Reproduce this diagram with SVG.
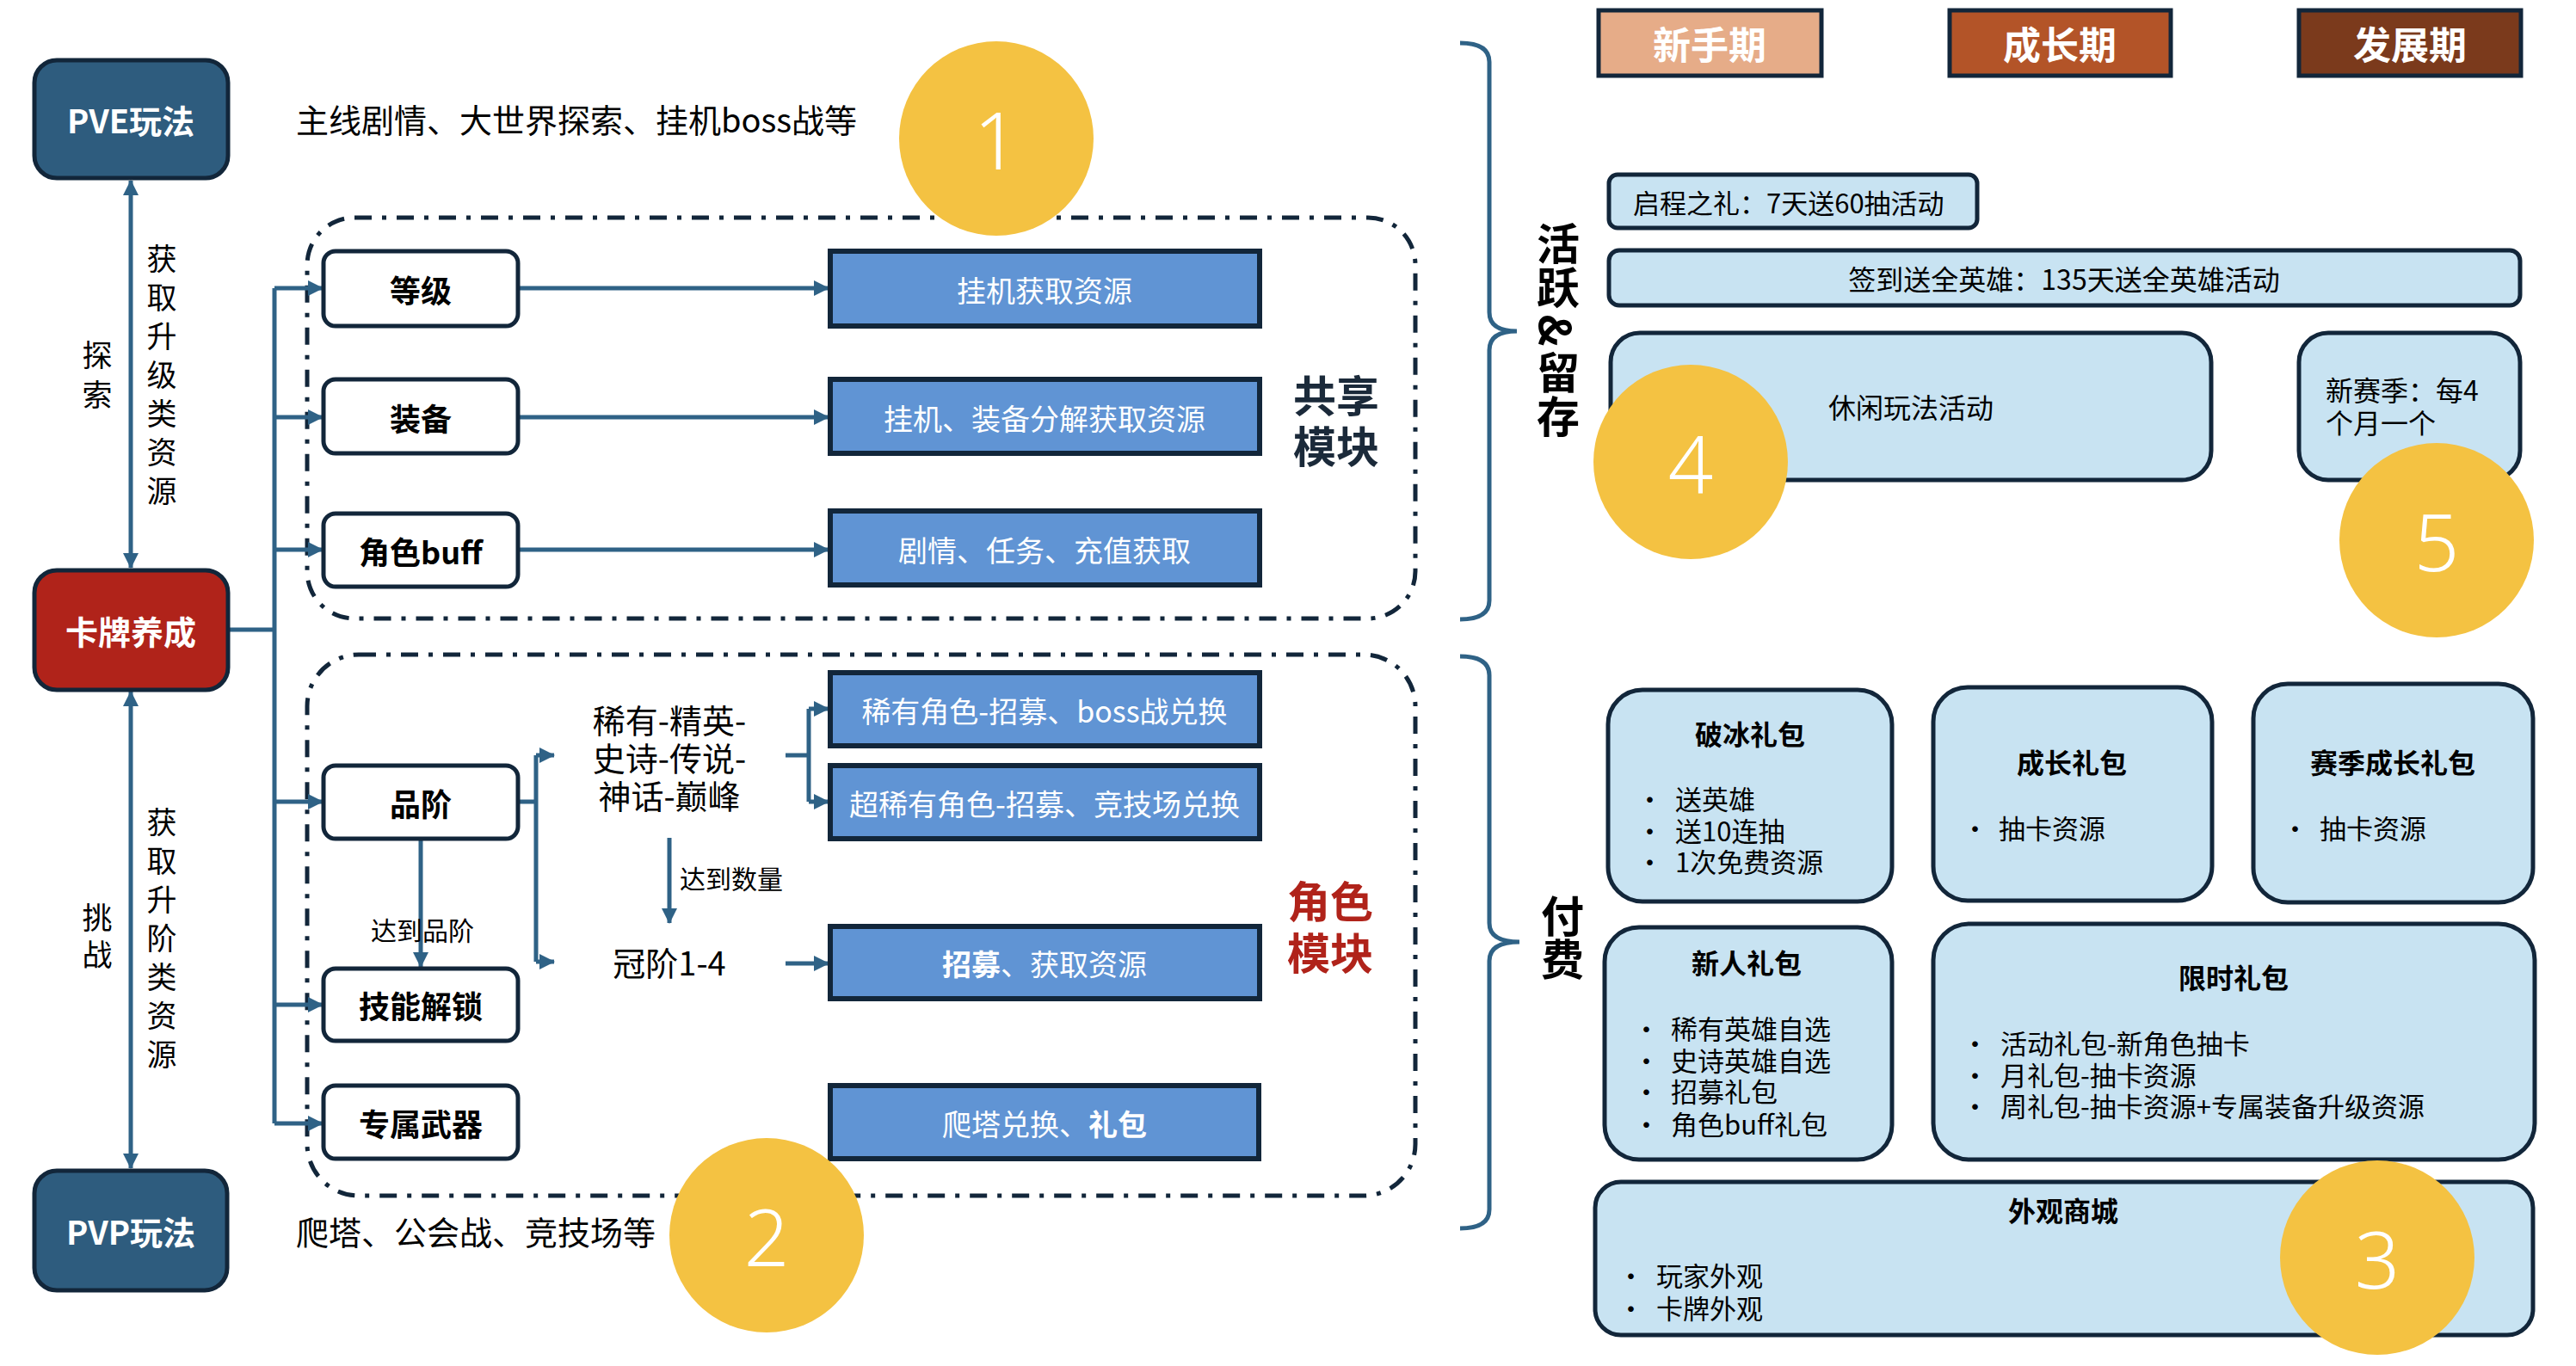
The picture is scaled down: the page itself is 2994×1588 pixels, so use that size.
<svg xmlns="http://www.w3.org/2000/svg" width="2994" height="1588" viewBox="0 0 2994 1588">
<defs>
<style>
text{font-family:"Noto Sans CJK SC","Noto Sans",sans-serif;}
.c{text-anchor:middle;dominant-baseline:central;}
.l{dominant-baseline:central;}
.v{writing-mode:vertical-rl;fill:#000000;}
.b{font-weight:bold;}
.w{fill:#FFFFFF;}
.k{fill:#000000;}
.con{fill:none;stroke:#2F6286;stroke-width:5;}
.dash{fill:none;stroke:#12263A;stroke-width:5;stroke-dasharray:20 12 5 12;}
.brace{fill:none;stroke:#2F6286;stroke-width:5;}
.dk{stroke:#12263A;stroke-width:5;}
.wbox{fill:#FFFFFF;stroke:#12263A;stroke-width:5;}
.bbox{fill:#6094D4;stroke:#12263A;stroke-width:6;}
.lbox{fill:#C8E3F2;stroke:#12263A;stroke-width:5;}
.circ{fill:#F4C242;}
.num{font-family:"Noto Sans","DejaVu Sans",sans-serif;font-size:92px;font-weight:300;fill:#FFFFFF;text-anchor:middle;dominant-baseline:central;}
</style>
<marker id="ah" viewBox="0 0 18 18" refX="17" refY="9" markerWidth="18" markerHeight="18" markerUnits="userSpaceOnUse" orient="auto-start-reverse">
<path d="M0,0 L18,9 L0,18 Z" fill="#2F6286"/>
</marker>
</defs>
<rect x="0" y="0" width="2994" height="1588" fill="#FFFFFF"/>

<!-- dashed module frames -->
<g id="frames">
<rect class="dash" x="357" y="253" width="1288" height="466" rx="55" ry="55"/>
<rect class="dash" x="357" y="761" width="1288" height="629" rx="60" ry="60"/>
</g>

<!-- connectors -->
<g id="connectors">
<line class="con" x1="152" y1="210" x2="152" y2="660" marker-start="url(#ah)" marker-end="url(#ah)"/>
<line class="con" x1="152" y1="804" x2="152" y2="1358" marker-start="url(#ah)" marker-end="url(#ah)"/>
<path class="con" d="M265 732 H319 M319 335 V1306"/>
<path class="con" d="M319 335 H375" marker-end="url(#ah)"/>
<path class="con" d="M319 485 H375" marker-end="url(#ah)"/>
<path class="con" d="M319 639 H375" marker-end="url(#ah)"/>
<path class="con" d="M319 932 H375" marker-end="url(#ah)"/>
<path class="con" d="M319 1168 H375" marker-end="url(#ah)"/>
<path class="con" d="M319 1306 H375" marker-end="url(#ah)"/>
<path class="con" d="M602 335 H963" marker-end="url(#ah)"/>
<path class="con" d="M602 485 H963" marker-end="url(#ah)"/>
<path class="con" d="M602 639 H963" marker-end="url(#ah)"/>
<path class="con" d="M602 932 H623 M623 878 V1118"/>
<path class="con" d="M623 878 H644" marker-end="url(#ah)"/>
<path class="con" d="M623 1118 H644" marker-end="url(#ah)"/>
<path class="con" d="M489 975 V1124" marker-end="url(#ah)"/>
<path class="con" d="M913 878 H940 M940 824 V932"/>
<path class="con" d="M940 824 H963" marker-end="url(#ah)"/>
<path class="con" d="M940 932 H963" marker-end="url(#ah)"/>
<path class="con" d="M778 974 V1073" marker-end="url(#ah)"/>
<path class="con" d="M913 1120 H963" marker-end="url(#ah)"/>
<path class="brace" d="M1697 50 Q1731 50 1731 72 V363 Q1731 385 1763 385 Q1731 385 1731 407 V698 Q1731 720 1697 720"/>
<path class="brace" d="M1697 763 Q1731 763 1731 785 V1073 Q1731 1095 1766 1095 Q1731 1095 1731 1117 V1406 Q1731 1428 1697 1428"/>
</g>

<!-- left column -->
<g id="pve">
<rect x="40" y="70" width="225" height="137" rx="26" fill="#2E5C7E" class="dk"/>
<text class="c b w" x="152" y="138" font-size="38">PVE玩法</text>
</g>
<g id="card">
<rect x="40" y="663" width="225" height="139" rx="26" fill="#B0231A" class="dk"/>
<text class="c b w" x="152" y="732" font-size="38">卡牌养成</text>
</g>
<g id="pvp">
<rect x="40" y="1361" width="224" height="139" rx="26" fill="#2E5C7E" class="dk"/>
<text class="c b w" x="152" y="1430" font-size="38">PVP玩法</text>
</g>
<g id="label-explore"><text class="v" x="113" y="395" font-size="35" letter-spacing="11">探索</text></g>
<g id="label-upgrade"><text class="v" x="188" y="283" font-size="35" letter-spacing="10">获取升级类资源</text></g>
<g id="label-challenge"><text class="v" x="113" y="1049" font-size="35" letter-spacing="8">挑战</text></g>
<g id="label-rankup"><text class="v" x="188" y="938" font-size="35" letter-spacing="10">获取升阶类资源</text></g>
<g id="pve-desc"><text class="l k" x="344" y="137" font-size="38">主线剧情、大世界探索、挂机boss战等</text></g>
<g id="pvp-desc"><text class="l k" x="344" y="1430" font-size="38">爬塔、公会战、竞技场等</text></g>

<!-- shared module -->
<g id="level"><rect class="wbox" x="376" y="292" width="226" height="87" rx="14"/><text class="c b k" x="489" y="336" font-size="36">等级</text></g>
<g id="equip"><rect class="wbox" x="376" y="441" width="226" height="86" rx="14"/><text class="c b k" x="489" y="485" font-size="36">装备</text></g>
<g id="buff"><rect class="wbox" x="376" y="597" width="226" height="85" rx="14"/><text class="c b k" x="489" y="640" font-size="36">角色buff</text></g>
<g id="res1"><rect class="bbox" x="965" y="292" width="499" height="87"/><text class="c w" x="1214" y="336" font-size="34">挂机获取资源</text></g>
<g id="res2"><rect class="bbox" x="965" y="441" width="499" height="86"/><text class="c w" x="1214" y="485" font-size="34">挂机、装备分解获取资源</text></g>
<g id="res3"><rect class="bbox" x="965" y="594" width="499" height="86"/><text class="c w" x="1214" y="638" font-size="34">剧情、任务、充值获取</text></g>
<g id="shared-label">
<text class="b" x="1553" y="457" font-size="50" fill="#1B2A3A" text-anchor="middle" dominant-baseline="central"><tspan x="1553" y="457">共享</tspan><tspan x="1553" y="516">模块</tspan></text>
</g>

<!-- role module -->
<g id="rank"><rect class="wbox" x="376" y="890" width="226" height="85" rx="14"/><text class="c b k" x="489" y="933" font-size="36">品阶</text></g>
<g id="skill"><rect class="wbox" x="376" y="1126" width="226" height="84" rx="14"/><text class="c b k" x="489" y="1168" font-size="36">技能解锁</text></g>
<g id="weapon"><rect class="wbox" x="376" y="1262" width="226" height="85" rx="14"/><text class="c b k" x="489" y="1305" font-size="36">专属武器</text></g>
<g id="rarity">
<text class="c k" x="778" y="835" font-size="38"><tspan x="778" y="835">稀有-精英-</tspan><tspan x="778" y="879">史诗-传说-</tspan><tspan x="778" y="923">神话-巅峰</tspan></text>
</g>
<g id="crown"><text class="c k" x="778" y="1117" font-size="38">冠阶1-4</text></g>
<g id="lbl-count"><text class="l k" x="790" y="1020" font-size="30">达到数量</text></g>
<g id="lbl-rank"><text class="c k" x="491" y="1080" font-size="30">达到品阶</text></g>
<g id="r1"><rect class="bbox" x="965" y="782" width="499" height="85"/><text class="c w" x="1214" y="825" font-size="34">稀有角色-招募、boss战兑换</text></g>
<g id="r2"><rect class="bbox" x="965" y="890" width="499" height="85"/><text class="c w" x="1214" y="933" font-size="34">超稀有角色-招募、竞技场兑换</text></g>
<g id="r3"><rect class="bbox" x="965" y="1077" width="499" height="84"/><text class="c w" x="1214" y="1119" font-size="34"><tspan font-weight="bold">招募</tspan>、获取资源</text></g>
<g id="r4"><rect class="bbox" x="965" y="1262" width="498" height="85"/><text class="c w" x="1214" y="1305" font-size="34">爬塔兑换、<tspan font-weight="bold">礼包</tspan></text></g>
<g id="role-label">
<text class="b" x="1546" y="1045" font-size="50" fill="#B0231A" text-anchor="middle" dominant-baseline="central"><tspan x="1546" y="1045">角色</tspan><tspan x="1546" y="1105">模块</tspan></text>
</g>

<!-- right side -->
<g id="active-label">
<text class="v b" x="1811" y="258" font-size="50" letter-spacing="1">活跃</text>
<text class="c b k" x="1811" y="384" font-size="50" transform="rotate(90 1811 384)">&amp;</text>
<text class="v b" x="1811" y="408" font-size="50" letter-spacing="1">留存</text>
</g>
<g id="pay-label"><text class="v b" x="1816" y="1040" font-size="50">付费</text></g>
<g id="phase1"><rect x="1858" y="12" width="259" height="76" fill="#E6AC88" class="dk"/><text class="c b w" x="1987" y="50" font-size="44">新手期</text></g>
<g id="phase2"><rect x="2266" y="12" width="257" height="76" fill="#B35428" class="dk"/><text class="c b w" x="2394" y="50" font-size="44">成长期</text></g>
<g id="phase3"><rect x="2672" y="12" width="258" height="76" fill="#7B3A1C" class="dk"/><text class="c b w" x="2801" y="50" font-size="44">发展期</text></g>

<g id="act1"><rect class="lbox" x="1870" y="203" width="428" height="62" rx="10"/><text class="l k" x="1898" y="234" font-size="31">启程之礼：7天送60抽活动</text></g>
<g id="act2"><rect class="lbox" x="1870" y="291" width="1059" height="64" rx="12"/><text class="c k" x="2399" y="323" font-size="32">签到送全英雄：135天送全英雄活动</text></g>
<g id="act3"><rect class="lbox" x="1872" y="387" width="698" height="171" rx="34"/><text class="c k" x="2221" y="472" font-size="32">休闲玩法活动</text></g>
<g id="act4"><rect class="lbox" x="2672" y="387" width="257" height="171" rx="34"/>
<text class="l k" x="2703" y="452" font-size="32"><tspan x="2703" y="452">新赛季：每4</tspan><tspan x="2703" y="490">个月一个</tspan></text></g>

<g id="pk1"><rect class="lbox" x="1869" y="802" width="330" height="246" rx="40"/>
<text class="c b k" x="2034" y="852" font-size="32">破冰礼包</text>
<text class="l k" font-size="31"><tspan x="1902" y="927">•</tspan><tspan x="1947" y="927">送英雄</tspan><tspan x="1902" y="964">•</tspan><tspan x="1947" y="964">送10连抽</tspan><tspan x="1902" y="1000">•</tspan><tspan x="1947" y="1000">1次免费资源</tspan></text>
</g>
<g id="pk2"><rect class="lbox" x="2247" y="799" width="324" height="248" rx="40"/>
<text class="c b k" x="2408" y="885" font-size="32">成长礼包</text>
<text class="l k" font-size="31"><tspan x="2280" y="961">•</tspan><tspan x="2323" y="961">抽卡资源</tspan></text>
</g>
<g id="pk3"><rect class="lbox" x="2619" y="795" width="325" height="254" rx="40"/>
<text class="c b k" x="2781" y="885" font-size="32">赛季成长礼包</text>
<text class="l k" font-size="31"><tspan x="2652" y="961">•</tspan><tspan x="2696" y="961">抽卡资源</tspan></text>
</g>
<g id="pk4"><rect class="lbox" x="1865" y="1078" width="334" height="270" rx="40"/>
<text class="c b k" x="2030" y="1118" font-size="32">新人礼包</text>
<text class="l k" font-size="31"><tspan x="1898" y="1194">•</tspan><tspan x="1942" y="1194">稀有英雄自选</tspan><tspan x="1898" y="1231">•</tspan><tspan x="1942" y="1231">史诗英雄自选</tspan><tspan x="1898" y="1267">•</tspan><tspan x="1942" y="1267">招募礼包</tspan><tspan x="1898" y="1305">•</tspan><tspan x="1942" y="1305">角色buff礼包</tspan></text>
</g>
<g id="pk5"><rect class="lbox" x="2247" y="1074" width="699" height="274" rx="42"/>
<text class="c b k" x="2596" y="1135" font-size="32">限时礼包</text>
<text class="l k" font-size="31"><tspan x="2280" y="1211">•</tspan><tspan x="2325" y="1211">活动礼包-新角色抽卡</tspan><tspan x="2280" y="1248">•</tspan><tspan x="2325" y="1248">月礼包-抽卡资源</tspan><tspan x="2280" y="1284">•</tspan><tspan x="2325" y="1284">周礼包-抽卡资源+专属装备升级资源</tspan></text>
</g>
<g id="pk6"><rect class="lbox" x="1854" y="1374" width="1090" height="178" rx="30"/>
<text class="c b k" x="2398" y="1406" font-size="32">外观商城</text>
<text class="l k" font-size="31"><tspan x="1880" y="1481">•</tspan><tspan x="1925" y="1481">玩家外观</tspan><tspan x="1880" y="1519">•</tspan><tspan x="1925" y="1519">卡牌外观</tspan></text>
</g>

<!-- numbered circles -->
<g id="n1"><circle class="circ" cx="1158" cy="161" r="113"/><text class="num" x="1158" y="161">1</text></g>
<g id="n2"><circle class="circ" cx="891" cy="1436" r="113"/><text class="num" x="891" y="1436">2</text></g>
<g id="n3"><circle class="circ" cx="2763" cy="1462" r="113"/><text class="num" x="2763" y="1462">3</text></g>
<g id="n4"><circle class="circ" cx="1965" cy="537" r="113"/><text class="num" x="1965" y="537">4</text></g>
<g id="n5"><circle class="circ" cx="2832" cy="628" r="113"/><text class="num" x="2832" y="628">5</text></g>
</svg>
